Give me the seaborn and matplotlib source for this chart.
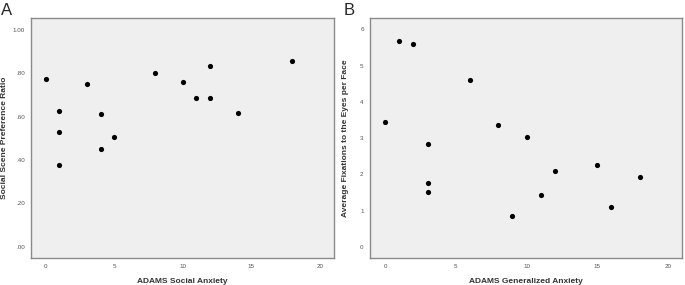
import numpy as np
import pandas as pd
import matplotlib
matplotlib.use("Agg")
import matplotlib.pyplot as plt
import seaborn as sns
from matplotlib.ticker import FuncFormatter

# Panel A: social anxiety vs social scene preference ratio
social_anxiety = [0, 1, 1, 1, 3, 4, 4, 5, 8, 10, 11, 12, 12, 14, 18]
preference_ratio = [0.775, 0.626, 0.529, 0.378, 0.749, 0.614, 0.452, 0.506,
                    0.800, 0.758, 0.688, 0.688, 0.834, 0.617, 0.858]

# Panel B: generalized anxiety vs fixations to the eyes
general_anxiety = [0, 1, 2, 3, 3, 3, 6, 8, 9, 10, 11, 12, 15, 16, 18]
eye_fixations = [3.43, 5.68, 5.59, 2.84, 1.77, 1.52, 4.59, 3.35, 0.85, 3.02,
                 1.44, 2.10, 2.26, 1.10, 1.93]

df_a = pd.DataFrame({"x": social_anxiety, "y": preference_ratio})
df_b = pd.DataFrame({"x": general_anxiety, "y": eye_fixations})

sns.set_style("white")
plt.rcParams['font.family'] = ['Liberation Sans', 'DejaVu Sans']

fig = plt.figure(figsize=(6.85, 2.85), dpi=100)
ax_a = fig.add_axes([0.0453, 0.0947, 0.4423, 0.842])
ax_b = fig.add_axes([0.540, 0.0947, 0.4556, 0.842])

for ax, df in [(ax_a, df_a), (ax_b, df_b)]:
    sns.scatterplot(data=df, x="x", y="y", ax=ax, color="black", s=14,
                    edgecolor="black", linewidth=0)
    ax.set_facecolor("#efefef")
    for sp in ax.spines.values():
        sp.set_color("#8a8a8a")
        sp.set_linewidth(1.0)
    ax.tick_params(axis="both", length=3, width=0.6, color="#777777",
                   labelsize=4.5, labelcolor="#555555", pad=1.5)
    ax.set_xticks([0, 5, 10, 15, 20])

ax_a.set_xlim(-1.07, 21.04)
ax_a.set_ylim(-0.052, 1.055)
ax_a.set_yticks([0, 0.2, 0.4, 0.6, 0.8, 1.0])
ax_a.yaxis.set_major_formatter(FuncFormatter(lambda v, p: ("%.2f" % v).lstrip("0") if v < 1 else "%.2f" % v))
ax_a.set_xlabel("ADAMS Social Anxiety", fontsize=6, fontweight="bold", color="#333333", labelpad=6)
ax_a.set_ylabel("Social Scene Preference Ratio", fontsize=6, fontweight="bold", color="#333333", labelpad=3)

ax_b.set_xlim(-1.08, 21.0)
ax_b.set_ylim(-0.31, 6.31)
ax_b.set_yticks([0, 1, 2, 3, 4, 5, 6])
ax_b.set_xlabel("ADAMS Generalized Anxiety", fontsize=6, fontweight="bold", color="#333333", labelpad=6)
ax_b.set_ylabel("Average Fixations to the Eyes per Face", fontsize=6, fontweight="bold", color="#333333", labelpad=8)

fig.text(0.002, 0.99, "A", fontsize=12, va="top", ha="left")
fig.text(0.502, 0.99, "B", fontsize=12, va="top", ha="left")

fig.savefig("out.png", dpi=100)
